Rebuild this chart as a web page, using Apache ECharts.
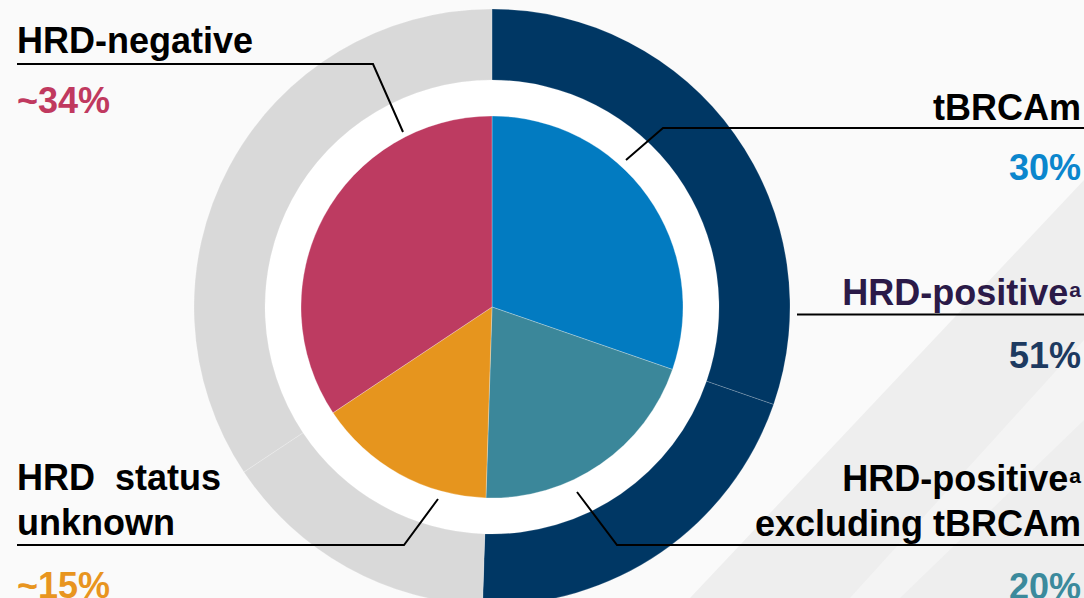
<!DOCTYPE html>
<html>
<head>
<meta charset="utf-8">
<script src="https://cdn.jsdelivr.net/npm/echarts@6/dist/echarts.min.js"></script>
<style>
html,body{margin:0;padding:0;background:#fafafa;}
#c{width:1084px;height:598px;}
</style>
</head>
<body>
<div id="c"></div>
<script>
// ---- data ----
const categories = ['tBRCAm', 'HRD-positive excluding tBRCAm', 'HRD status unknown', 'HRD-negative'];
const shares = [30, 20, 15, 34];
const shareLabels = ['30%', '20%', '~15%', '~34%'];
const labelLines = [['tBRCAm'], ['HRD-positive', 'excluding tBRCAm'], ['HRD\u00a0\u00a0status', 'unknown'], ['HRD-negative']];
const footnoteMarks = ['', 'a', '', ''];
const ringGroups = ['HRD-positive', 'HRD-positive', 'Other', 'Other'];
const groupLabel = 'HRD-positive';
const groupMark = 'a';
const groupShareLabel = '51%';

// ---- styles ----
const sliceColors = ['#027bc1', '#3b879a', '#e6951e', '#bd3b61'];
const valueColors = ['#0b86cd', '#3b8a9c', '#e8951f', '#c0395f'];
const ringColors = { 'HRD-positive': '#003764', 'Other': '#d9d9d9' };
const FONT = '"Liberation Sans", Arial, Helvetica, sans-serif';
const CENTER = [492, 307];

const labelPos = [
  { x: 1081, y: 85,  align: 'right', line: [[626, 160], [663, 128], [1084, 128]] },
  { x: 1081, y: 456, align: 'right', line: [[577, 492], [617, 545], [1084, 545]] },
  { x: 17,   y: 455, align: 'left',  line: [[438, 499], [404, 545], [17, 545]] },
  { x: 17,   y: 18,  align: 'left',  line: [[403, 132], [373, 64], [17, 64]] }
];
const groupPos = { x: 1081, y: 270, align: 'right', line: [[797, 314.5], [797, 314.5], [1084, 314.5]] };

const baseText = { fontFamily: FONT, fontWeight: 'bold', fontSize: 36, lineHeight: 45 };
const supText = { fontFamily: FONT, fontWeight: 'bold', fontSize: 21, lineHeight: 45, verticalAlign: 'middle', padding: [0, 0, 7, 1] };
const rich = {
  n: Object.assign({}, baseText, { color: '#000' }),
  np: Object.assign({}, baseText, { color: '#2b1a48' }),
  sup: Object.assign({}, supText, { color: '#000' }),
  supP: Object.assign({}, supText, { color: '#2b1a48' }),
  vg: Object.assign({}, baseText, { color: '#1d3a60', lineHeight: 80 })
};
valueColors.forEach((c, i) => {
  rich['v' + i] = Object.assign({}, baseText, { color: c, lineHeight: labelLines[i].length > 1 ? 80 : 75 });
});

const chart = echarts.init(document.getElementById('c'), null, { renderer: 'svg' });

chart.setOption({
  animation: false,
  backgroundColor: '#fafafa',
  graphic: [
    { type: 'polygon', z: -10, silent: true, shape: { points: [[1084, 180], [690, 598], [1084, 598]] }, style: { fill: '#eeeeee' } },
    { type: 'polygon', z: -9, silent: true, shape: { points: [[1084, 420], [900, 598], [850, 598], [1084, 340]] }, style: { fill: '#f4f4f4' } }
  ],
  series: [
    {
      type: 'pie',
      name: 'gap',
      silent: true,
      center: CENTER,
      radius: [190, 227],
      label: { show: false },
      labelLine: { show: false },
      itemStyle: { color: '#ffffff' },
      data: [{ value: 1, name: 'gap' }],
      z: 1
    },
    {
      type: 'pie',
      name: 'HRD group',
      center: CENTER,
      radius: [227, 298],
      startAngle: 90,
      clockwise: true,
      avoidLabelOverlap: false,
      itemStyle: { borderColor: 'rgba(255,255,255,0.3)', borderWidth: 0.6 },
      data: categories.map((c, i) => ({
        name: c,
        value: shares[i],
        itemStyle: { color: ringColors[ringGroups[i]] },
        label: { show: i === 0 },
        labelLine: { show: i === 0 }
      })),
      label: {
        position: 'outside',
        formatter: () => '{np|' + groupLabel + '}{supP|' + groupMark + '}\n{vg|' + groupShareLabel + '}',
        rich: rich
      },
      labelLine: { smooth: false, lineStyle: { color: '#000', width: 2 } },
      labelLayout: p => p.dataIndex === 0 ? {
        x: groupPos.x, y: groupPos.y, align: groupPos.align, verticalAlign: 'top',
        labelLinePoints: groupPos.line
      } : {},
      z: 2
    },
    {
      type: 'pie',
      name: 'HRD status',
      center: CENTER,
      radius: [0, 191],
      startAngle: 90,
      clockwise: true,
      avoidLabelOverlap: false,
      itemStyle: { borderColor: 'rgba(255,255,255,0.45)', borderWidth: 0.6 },
      data: categories.map((c, i) => ({ name: c, value: shares[i], itemStyle: { color: sliceColors[i] } })),
      label: {
        show: true,
        position: 'outside',
        formatter: p => {
          const i = p.dataIndex;
          const lines = labelLines[i].map((t, k) =>
            '{n|' + t + '}' + (k === 0 && footnoteMarks[i] ? '{sup|' + footnoteMarks[i] + '}' : ''));
          return lines.join('\n') + '\n{v' + i + '|' + shareLabels[i] + '}';
        },
        rich: rich
      },
      labelLine: { show: true, smooth: false, lineStyle: { color: '#000', width: 2 } },
      labelLayout: p => {
        const L = labelPos[p.dataIndex];
        return { x: L.x, y: L.y, align: L.align, verticalAlign: 'top', labelLinePoints: L.line };
      },
      z: 3
    }
  ]
});
</script>
</body>
</html>
